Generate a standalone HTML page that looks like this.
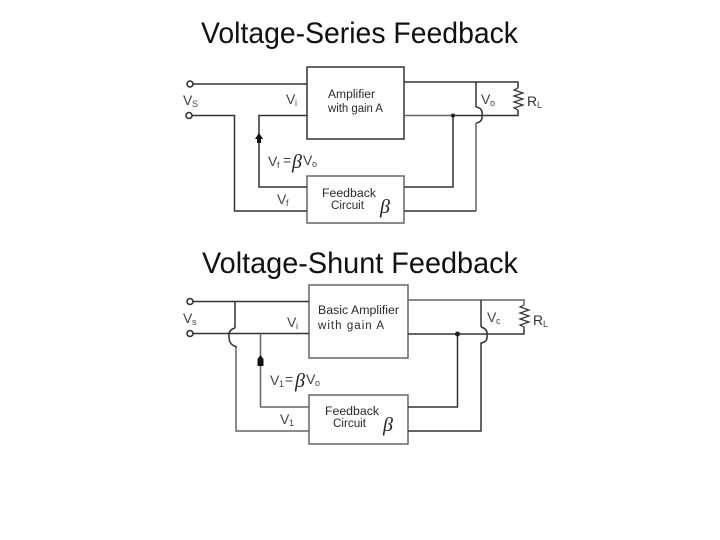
<!DOCTYPE html>
<html><head><meta charset="utf-8">
<style>
html,body{margin:0;padding:0;background:#fff;width:720px;height:540px;overflow:hidden}
svg{display:block}
text{font-family:"Liberation Sans",sans-serif;fill:#2a2a2a}
.t{font-size:30px;fill:#111}
.l{font-size:11.5px}
.v{font-size:14px;fill:#444}
.s{font-size:9px;fill:#444}
.b{font-family:"Liberation Serif",serif;font-style:italic;font-size:20px;fill:#222}
.w{fill:none;stroke:#333;stroke-width:1.5}
.g{fill:none;stroke:#666;stroke-width:1.5}
.c{fill:#fff;stroke:#333;stroke-width:1.6}
</style></head><body>
<svg width="720" height="540" viewBox="0 0 720 540" xmlns="http://www.w3.org/2000/svg">
<text class="t" x="201" y="43" textLength="317" lengthAdjust="spacingAndGlyphs">Voltage-Series Feedback</text>
<text class="t" x="202" y="273" textLength="316" lengthAdjust="spacingAndGlyphs">Voltage-Shunt Feedback</text>

<!-- top diagram -->
<rect class="w" x="307" y="67" width="97" height="72"/>
<rect class="g" x="307" y="176" width="97" height="47"/>
<path class="w" d="M190 84H307"/>
<path class="w" d="M189 115.500H234.500V211H307"/>
<path class="w" d="M307 115.500H259V187H307"/>
<path class="w" d="M404 82H518V88"/>
<path class="g" d="M404 115.500H452"/>
<path class="w" d="M452 115.500H518V110"/>
<path class="w" d="M476 82V107"/>
<path class="w" d="M476 107Q483 108 482 115Q483 122 476 123"/>
<path class="g" d="M476 123V211"/>
<path class="w" d="M404 211H476"/>
<path class="w" d="M453 115.500V187H404"/>
<path class="w" d="M518 88L514 90L523 93L514 96L523 99L514 102L523 105L514 108L518 110" style="stroke-width:1.2"/>
<circle cx="453" cy="115.500" r="2" fill="#222"/>
<circle class="c" cx="190" cy="84" r="3"/>
<circle class="c" cx="189" cy="115.500" r="3"/>
<path d="M259 133L263 139H261V143H257V139H255Z" fill="#111"/>
<text class="v" x="183" y="105">V</text><text class="s" x="192" y="107">S</text>
<text class="v" x="286" y="104">V</text><text class="s" x="295" y="106">i</text>
<text class="v" x="481" y="104">V</text><text class="s" x="490" y="106">o</text>
<text class="v" x="527" y="106" style="fill:#333">R</text><text class="s" x="537" y="108">L</text>
<text class="l" x="328" y="98" textLength="47" lengthAdjust="spacingAndGlyphs">Amplifier</text>
<text class="l" x="328" y="112" textLength="55" lengthAdjust="spacingAndGlyphs">with gain A</text>
<text class="l" x="322" y="197" textLength="54" lengthAdjust="spacingAndGlyphs">Feedback</text>
<text class="l" x="331" y="209" textLength="33" lengthAdjust="spacingAndGlyphs">Circuit</text>
<text class="b" x="380" y="213">β</text>
<text class="v" x="268" y="166">V</text><text class="s" x="277" y="168">f</text>
<text class="v" x="283" y="165">=</text><text class="b" x="292" y="168">β</text>
<text class="v" x="303" y="165">V</text><text class="s" x="312" y="167">o</text>
<text class="v" x="277" y="204">V</text><text class="s" x="286" y="206">f</text>

<!-- bottom diagram -->
<rect class="g" x="309" y="285" width="99" height="73"/>
<rect class="g" x="309" y="395" width="99" height="49"/>
<path class="w" d="M190 301.500H309"/>
<path class="w" d="M190 333.500H309"/>
<path class="w" d="M235 301.500V328"/>
<path class="w" d="M235 328Q228 330 229 337Q229 345 237 347"/>
<path class="g" d="M236 347V431H309"/>
<path class="g" d="M260.500 333.500V407H309"/>
<path class="g" d="M408 300H524V305"/>
<path class="w" d="M408 334H524V327"/>
<path class="w" d="M481 300V327"/>
<path class="w" d="M481 327Q488 329 487 335Q488 342 481 343V431H408"/>
<path class="w" d="M457.500 334V407H408"/>
<path class="w" d="M524 305L520 307L529 310L520 313L529 316L520 319L529 322L520 325L524 327" style="stroke-width:1.2"/>
<circle cx="457.500" cy="334" r="2.500" fill="#222"/>
<circle class="c" cx="190" cy="301.500" r="3"/>
<circle class="c" cx="190" cy="333.500" r="3"/>
<path d="M260.500 355L263.500 359V366H257.500V359Z" fill="#111"/>
<text class="v" x="183" y="323">V</text><text class="s" x="192" y="325">s</text>
<text class="v" x="287" y="327">V</text><text class="s" x="296" y="329">i</text>
<text class="v" x="487" y="322">V</text><text class="s" x="496" y="324">c</text>
<text class="v" x="533" y="325" style="fill:#333">R</text><text class="s" x="543" y="327">L</text>
<text class="l" x="318" y="314" textLength="81" lengthAdjust="spacingAndGlyphs">Basic Amplifier</text>
<text class="l" x="318" y="329" textLength="66" lengthAdjust="spacing">with gain A</text>
<text class="l" x="325" y="415" textLength="54" lengthAdjust="spacingAndGlyphs">Feedback</text>
<text class="l" x="333" y="427" textLength="33" lengthAdjust="spacingAndGlyphs">Circuit</text>
<text class="b" x="383" y="431">β</text>
<text class="v" x="270" y="385">V</text><text class="s" x="279" y="387">1</text>
<text class="v" x="285" y="384">=</text><text class="b" x="295" y="387">β</text>
<text class="v" x="306" y="384">V</text><text class="s" x="315" y="386">o</text>
<text class="v" x="280" y="424">V</text><text class="s" x="289" y="426">1</text>
</svg>
</body></html>
